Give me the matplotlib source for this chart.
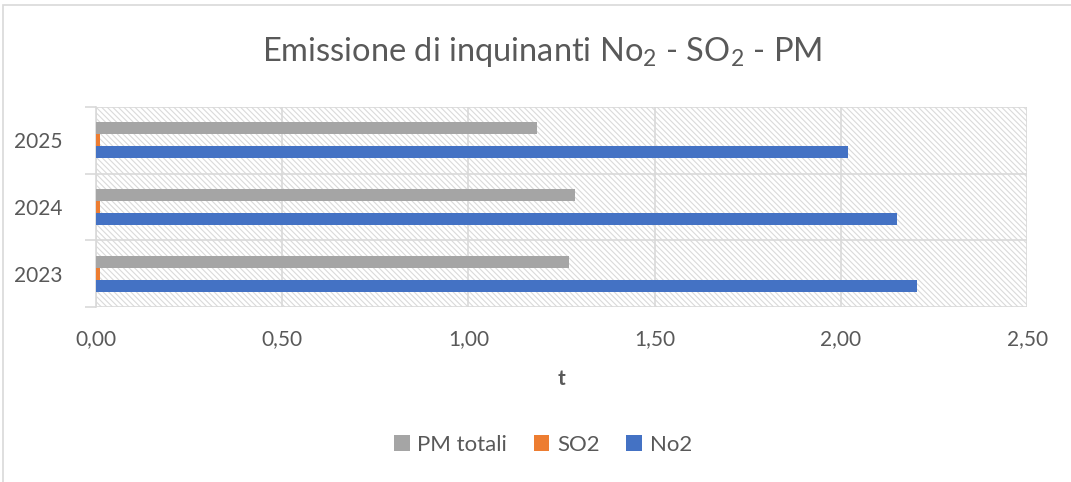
import numpy as np
import matplotlib.pyplot as plt
from matplotlib.patches import Rectangle

years = ['2023', '2024', '2025']
pm_totali = [1.27, 1.285, 1.185]
so2 = [0.012, 0.012, 0.012]
no2 = [2.205, 2.15, 2.02]
x_ticks = [0.0, 0.5, 1.0, 1.5, 2.0, 2.5]

text_col = '#595959'
grid_col = '#D9D9D9'

plt.rcParams['font.family'] = ['Lato', 'DejaVu Sans']
plt.rcParams['mathtext.fontset'] = 'custom'
plt.rcParams['mathtext.rm'] = 'Lato'
plt.rcParams['hatch.linewidth'] = 0.8

fig = plt.figure(figsize=(10.71, 4.82), dpi=100)
ax = fig.add_axes([0.0896, 0.363, 0.8694, 0.415])

pos = np.arange(len(years))
h = 0.18
ax.barh(pos + h, pm_totali, height=h, color='#A5A5A5', label='PM totali', zorder=3)
ax.barh(pos, so2, height=h, color='#ED7D31', label='SO2', zorder=3)
ax.barh(pos - h, no2, height=h, color='#4472C4', label='No2', zorder=3)

# hatched plot area
ax.add_patch(Rectangle((0, 0), 1, 1, transform=ax.transAxes, facecolor='white',
                       edgecolor='#DADADA', linewidth=0, hatch='\\\\\\\\\\\\', zorder=0.5))

ax.set_xlim(0, 2.5)
ax.set_ylim(-0.5, 2.5)
ax.set_xticks(x_ticks)
ax.set_xticklabels([f'{v:.2f}'.replace('.', ',') for v in x_ticks],
                   fontsize=15, color=text_col)
ax.set_yticks(pos)
ax.set_yticklabels(years, fontsize=15, color=text_col)
ax.set_yticks([-0.5, 0.5, 1.5, 2.5], minor=True)
ax.tick_params(axis='y', which='major', length=0, pad=24)
ax.tick_params(axis='y', which='minor', length=8, color=grid_col, width=1.2)
ax.tick_params(axis='x', length=0, pad=16)
ax.grid(axis='x', color=grid_col, linewidth=1.2, zorder=1)
ax.grid(axis='y', which='minor', color=grid_col, linewidth=1.2, zorder=1)
for s in ['top', 'right', 'bottom']:
    ax.spines[s].set_visible(False)
ax.spines['left'].set_color(grid_col)
ax.spines['left'].set_linewidth(1.2)
ax.set_axisbelow(True)

ax.set_xlabel('t', fontsize=15, fontweight='bold', color=text_col, labelpad=14)

fig.text(0.506, 0.892, r'Emissione di inquinanti No$_2$ - SO$_2$ - PM',
         ha='center', va='center', fontsize=23.5, color=text_col)

leg = fig.legend(loc='center', bbox_to_anchor=(0.507, 0.077), ncol=3, frameon=False,
                 fontsize=16, handlelength=0.7, handleheight=0.7, columnspacing=1.2,
                 handletextpad=0.35)
for t in leg.get_texts():
    t.set_color(text_col)

fig.add_artist(Rectangle((0.003, -0.01), 1.2, 1.0, transform=fig.transFigure,
                         facecolor='none', edgecolor='#D9D9D9', linewidth=1.2))

fig.savefig('out.png', dpi=100)
